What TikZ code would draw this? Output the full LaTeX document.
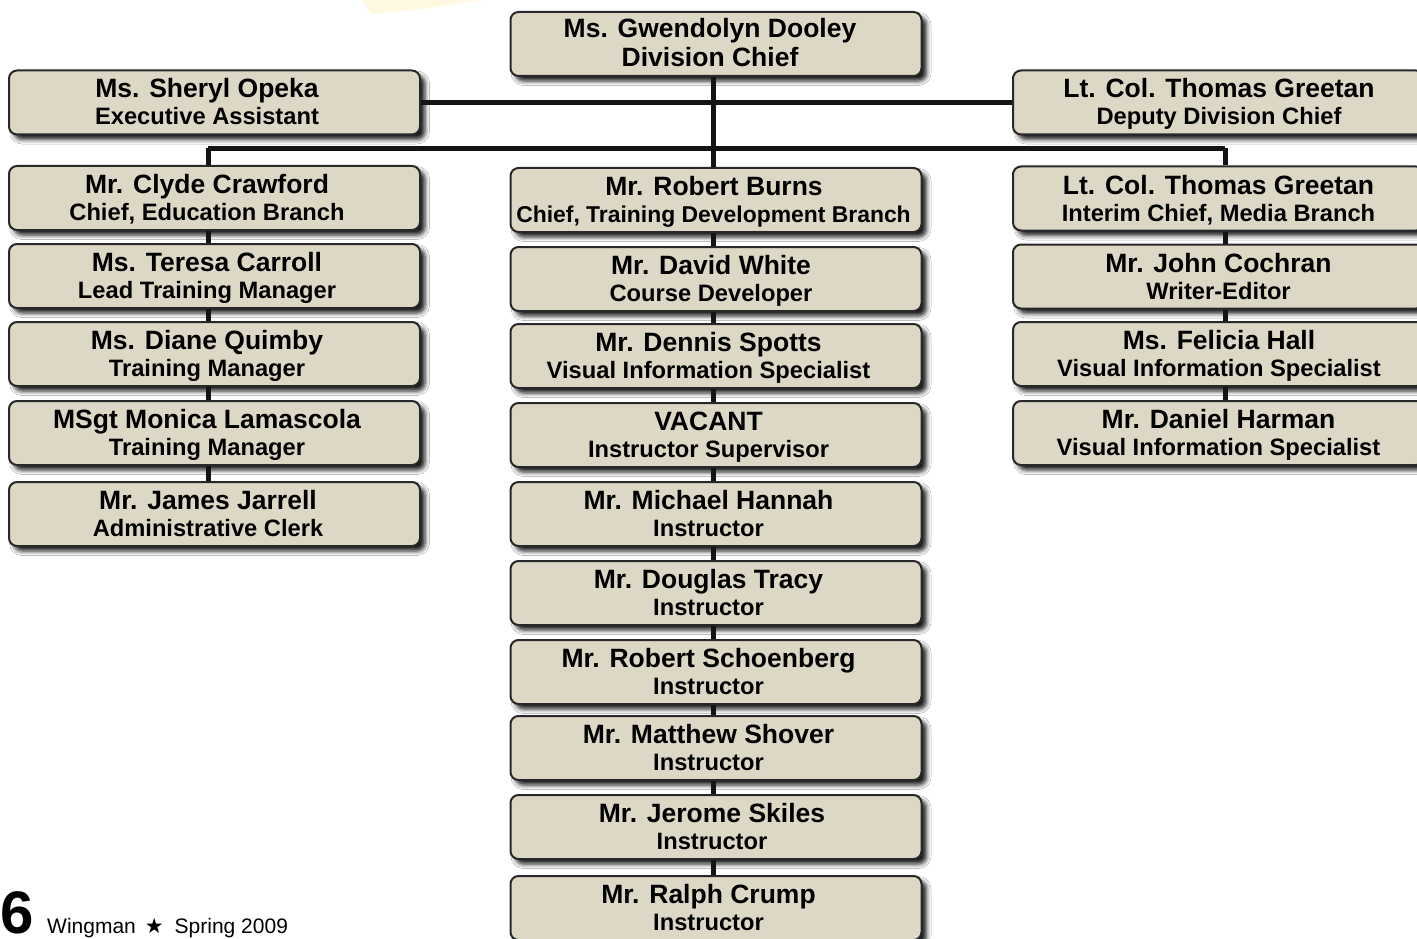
\documentclass[tikz,border=0pt]{standalone}
\usepackage{fontspec}
\setmainfont{Liberation Sans}
\newfontfamily\starfont{DejaVu Sans}
\usetikzlibrary{shadows.blur}
\definecolor{boxfill}{RGB}{221,216,197}
\definecolor{boxline}{RGB}{40,40,40}
\definecolor{glow}{RGB}{255,249,226}
\tikzset{
  orgboxstyle/.style={draw=boxline, line width=2pt, fill=boxfill, rounded corners=8pt,
    minimum width=411pt, minimum height=64pt, inner sep=0pt,
    blur shadow={shadow xshift=5pt, shadow yshift=-5pt, shadow blur radius=4.5pt, shadow opacity=90}},
  nametext/.style={anchor=base, inner sep=0pt, font=\bfseries\fontsize{26.5}{30}\selectfont},
  titletext/.style={anchor=base, inner sep=0pt, font=\bfseries\fontsize{23.7}{27}\selectfont},
  conn/.style={line width=5pt, draw=black!92},
}
\newcommand\orgbox[6]{%
  \node[orgboxstyle] (#1) at (#2,#3) {};
  \node[nametext] (#1-name) at (#4,#3-4.5) {#5};
  \node[titletext] (#1-title) at (#4,#3+22.5) {#6};
}
\begin{document}
\begin{tikzpicture}[x=1pt,y=-1pt]
\useasboundingbox (0,0) rectangle (1417,939);
\clip (0,0) rectangle (1417,939);
\fill[white] (0,0) rectangle (1417,939);
% faint glow at top
\fill[glow] (362,0) -- (482,0) -- (430,8) -- (372,14) -- cycle;

\coordinate (Lx) at (208,0);
\coordinate (Cx) at (713,0);
\coordinate (Rx) at (1225,0);
\coordinate (bus) at (713,148.5);

% connectors under boxes
\draw[conn] (Lx |- bus) -- (Rx |- bus);

% top
\node[orgboxstyle] (dooley) at (716,44) {};
\node[nametext] (dooley-name) at (710,38) {Ms. Gwendolyn Dooley};
\node[nametext] (dooley-title) at (710,67) {Division Chief};
\orgbox{opeka}{214.5}{102.5}{207}{Ms. Sheryl Opeka}{Executive Assistant}
\orgbox{deputy}{1218.5}{102.5}{1219}{Lt. Col. Thomas Greetan}{Deputy Division Chief}

% left column
\orgbox{crawford}{214.5}{198}{207}{Mr. Clyde Crawford}{Chief, Education Branch}
\orgbox{carroll}{214.5}{276}{207}{Ms. Teresa Carroll}{Lead Training Manager}
\orgbox{quimby}{214.5}{354}{207}{Ms. Diane Quimby}{Training Manager}
\orgbox{lamascola}{214.5}{433}{207}{MSgt Monica Lamascola}{Training Manager}
\orgbox{jarrell}{214.5}{514}{208}{Mr. James Jarrell}{Administrative Clerk}

% center column
\node[orgboxstyle] (burns) at (716,200) {};
\node[nametext] (burns-name) at (714,195.5) {Mr. Robert Burns};
\node[titletext, font=\bfseries\fontsize{22.9}{27}\selectfont] (burns-title) at (713.5,222.5) {Chief, Training Development Branch};
\orgbox{white}{716}{279}{711}{Mr. David White}{Course Developer}
\orgbox{spotts}{716}{356}{708.5}{Mr. Dennis Spotts}{Visual Information Specialist}
\orgbox{vacant}{716}{435}{708.5}{VACANT}{Instructor Supervisor}
\orgbox{hannah}{716}{514}{708.5}{Mr. Michael Hannah}{Instructor}
\orgbox{tracy}{716}{593}{708.5}{Mr. Douglas Tracy}{Instructor}
\orgbox{schoenberg}{716}{672}{708.5}{Mr. Robert Schoenberg}{Instructor}
\orgbox{shover}{716}{748}{708.5}{Mr. Matthew Shover}{Instructor}
\orgbox{skiles}{716}{827}{712}{Mr. Jerome Skiles}{Instructor}
\orgbox{crump}{716}{908}{708.5}{Mr. Ralph Crump}{Instructor}

% right column
\orgbox{interim}{1218.5}{198.5}{1218.5}{Lt. Col. Thomas Greetan}{Interim Chief, Media Branch}
\orgbox{cochran}{1218.5}{276.5}{1218.5}{Mr. John Cochran}{Writer-Editor}
\orgbox{hall}{1218.5}{354}{1219}{Ms. Felicia Hall}{Visual Information Specialist}
\orgbox{harman}{1218.5}{433}{1218.5}{Mr. Daniel Harman}{Visual Information Specialist}

% connectors
\draw[conn] (opeka.east) -- (deputy.west);
\draw[conn] (dooley.south -| Cx) -- (burns.north -| Cx);
\draw[conn] (crawford.north -| Lx) -- (Lx |- bus);
\draw[conn] (interim.north -| Rx) -- (Rx |- bus);
\foreach \a/\b in {crawford/carroll, carroll/quimby, quimby/lamascola, lamascola/jarrell}
  \draw[conn] (\a.south -| Lx) -- (\b.north -| Lx);
\foreach \a/\b in {burns/white, white/spotts, spotts/vacant, vacant/hannah, hannah/tracy,
                   tracy/schoenberg, schoenberg/shover, shover/skiles, skiles/crump}
  \draw[conn] (\a.south -| Cx) -- (\b.north -| Cx);
\foreach \a/\b in {interim/cochran, cochran/hall, hall/harman}
  \draw[conn] (\a.south -| Rx) -- (\b.north -| Rx);

% footer
\node[anchor=base west, inner sep=0pt, font=\bfseries\fontsize{60}{62}\selectfont] (pagenum) at (0,933) {6};
\node[anchor=base west, inner sep=0pt, font=\fontsize{21}{24}\selectfont] (footer) at (47,933)
  {Wingman\hspace{9pt}{\starfont ★}\hspace{11pt}Spring 2009};
\end{tikzpicture}
\end{document}
